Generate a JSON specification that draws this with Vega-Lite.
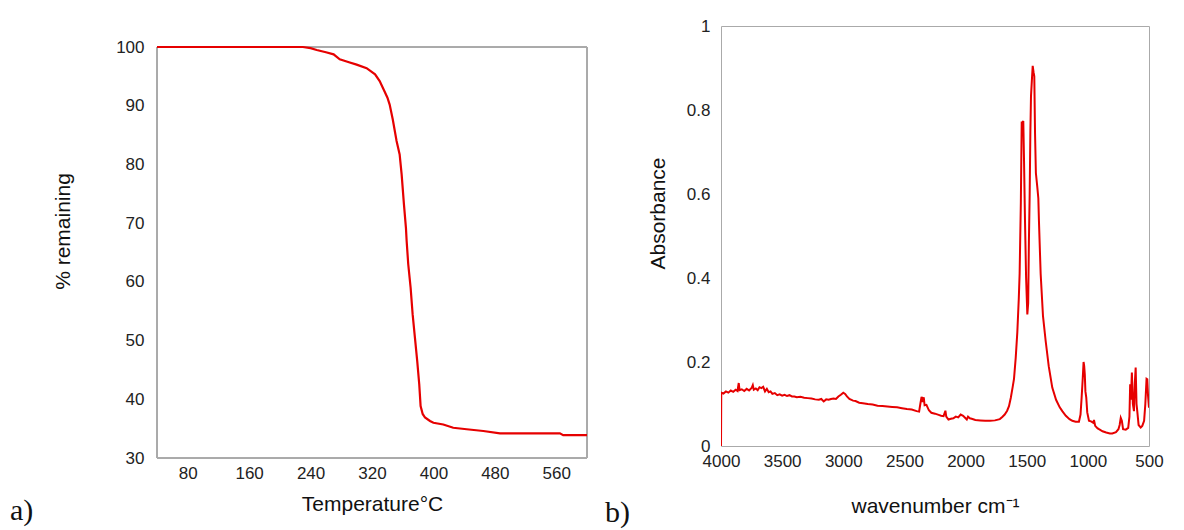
{
  "$schema": "https://vega.github.io/schema/vega-lite/v6.json",
  "background": "white",
  "padding": {"left": 10, "top": 16, "right": 0, "bottom": 0},
  "spacing": 16,
  "config": {
    "view": {"stroke": "#aaaaaa", "strokeWidth": 1},
    "axis": {
      "domain": false, "ticks": false, "tickSize": 0, "grid": false, "labelFlush": false,
      "labelFont": "Liberation Sans", "labelFontSize": 17, "labelColor": "#222222",
      "titleFont": "Liberation Sans", "titleFontSize": 21, "titleFontWeight": "normal", "titleColor": "#111111"
    },
    "title": {"font": "Liberation Serif", "fontSize": 30, "fontWeight": "normal", "color": "#111111"}
  },
  "hconcat": [
    {
      "width": 430,
      "height": 432,
      "view": {"stroke": null},
      "title": {"text": "a)", "orient": "bottom", "anchor": "start", "frame": "group", "dx": -147, "dy": -18, "offset": 0},
      "data": {"values": [
        {"temperature": 40, "remaining": 100},
        {"temperature": 230, "remaining": 100},
        {"temperature": 240, "remaining": 99.8},
        {"temperature": 248, "remaining": 99.5},
        {"temperature": 260, "remaining": 99.1},
        {"temperature": 270, "remaining": 98.75},
        {"temperature": 278, "remaining": 97.9},
        {"temperature": 290, "remaining": 97.4},
        {"temperature": 300, "remaining": 97.0},
        {"temperature": 313, "remaining": 96.4},
        {"temperature": 324, "remaining": 95.35},
        {"temperature": 330, "remaining": 94.2},
        {"temperature": 335, "remaining": 92.8},
        {"temperature": 340, "remaining": 91.4},
        {"temperature": 343, "remaining": 90.2},
        {"temperature": 347, "remaining": 87.7},
        {"temperature": 352, "remaining": 84.0},
        {"temperature": 356, "remaining": 81.7},
        {"temperature": 358.6, "remaining": 78.3},
        {"temperature": 361.6, "remaining": 73.2},
        {"temperature": 364.2, "remaining": 69.2},
        {"temperature": 365.1, "remaining": 67.0},
        {"temperature": 367.2, "remaining": 63.0},
        {"temperature": 370.3, "remaining": 59.0},
        {"temperature": 372.9, "remaining": 54.5},
        {"temperature": 375.9, "remaining": 50.5},
        {"temperature": 378.9, "remaining": 46.5},
        {"temperature": 381.5, "remaining": 42.6},
        {"temperature": 383.3, "remaining": 38.85},
        {"temperature": 386, "remaining": 37.5},
        {"temperature": 389, "remaining": 36.9},
        {"temperature": 395.5, "remaining": 36.3},
        {"temperature": 400, "remaining": 36.0},
        {"temperature": 412.8, "remaining": 35.7},
        {"temperature": 425.8, "remaining": 35.15},
        {"temperature": 443.3, "remaining": 34.9},
        {"temperature": 465, "remaining": 34.6},
        {"temperature": 486.6, "remaining": 34.2},
        {"temperature": 564.7, "remaining": 34.2},
        {"temperature": 569, "remaining": 33.9},
        {"temperature": 600, "remaining": 33.9}
      ]},
      "layer": [
        {
          "mark": {"type": "rect", "filled": false, "stroke": "#aaaaaa", "strokeWidth": 1},
          "encoding": {
            "x": {"datum": 40, "type": "quantitative"},
            "x2": {"datum": 600},
            "y": {"datum": 30, "type": "quantitative"},
            "y2": {"datum": 100}
          }
        },
        {
          "mark": {"type": "line", "color": "#e60000", "strokeWidth": 2.2, "clip": true},
          "encoding": {
            "x": {"field": "temperature", "type": "quantitative",
              "scale": {"domain": [40, 600], "nice": false, "zero": false},
              "axis": {"values": [80, 160, 240, 320, 400, 480, 560], "title": "Temperature°C", "labelPadding": 7, "titlePadding": 12}},
            "y": {"field": "remaining", "type": "quantitative",
              "scale": {"domain": [30, 103.578], "nice": false, "zero": false},
              "axis": {"values": [30, 40, 50, 60, 70, 80, 90, 100], "title": "% remaining", "labelPadding": 13, "titlePadding": 42, "titleY": 205}}
          }
        }
      ]
    },
    {
      "width": 428,
      "height": 420,
      "title": {"text": "b)", "orient": "bottom", "anchor": "start", "frame": "group", "dx": -116, "dy": -18, "offset": 0},
      "data": {"values": [
        {"wavenumber": 4000, "absorbance": 0},
        {"wavenumber": 3998, "absorbance": 0.127},
        {"wavenumber": 3980, "absorbance": 0.125},
        {"wavenumber": 3960, "absorbance": 0.13},
        {"wavenumber": 3940, "absorbance": 0.127},
        {"wavenumber": 3920, "absorbance": 0.132},
        {"wavenumber": 3900, "absorbance": 0.129},
        {"wavenumber": 3880, "absorbance": 0.134},
        {"wavenumber": 3865, "absorbance": 0.131},
        {"wavenumber": 3855, "absorbance": 0.15},
        {"wavenumber": 3848, "absorbance": 0.133},
        {"wavenumber": 3830, "absorbance": 0.135},
        {"wavenumber": 3810, "absorbance": 0.131},
        {"wavenumber": 3790, "absorbance": 0.136},
        {"wavenumber": 3770, "absorbance": 0.132},
        {"wavenumber": 3750, "absorbance": 0.138},
        {"wavenumber": 3740, "absorbance": 0.145},
        {"wavenumber": 3732, "absorbance": 0.134},
        {"wavenumber": 3715, "absorbance": 0.137},
        {"wavenumber": 3700, "absorbance": 0.133},
        {"wavenumber": 3685, "absorbance": 0.14},
        {"wavenumber": 3670, "absorbance": 0.138},
        {"wavenumber": 3655, "absorbance": 0.141},
        {"wavenumber": 3640, "absorbance": 0.13},
        {"wavenumber": 3625, "absorbance": 0.136},
        {"wavenumber": 3610, "absorbance": 0.128},
        {"wavenumber": 3595, "absorbance": 0.13},
        {"wavenumber": 3580, "absorbance": 0.124},
        {"wavenumber": 3560, "absorbance": 0.126},
        {"wavenumber": 3540, "absorbance": 0.121},
        {"wavenumber": 3520, "absorbance": 0.123},
        {"wavenumber": 3500, "absorbance": 0.12},
        {"wavenumber": 3480, "absorbance": 0.122},
        {"wavenumber": 3460, "absorbance": 0.119},
        {"wavenumber": 3440, "absorbance": 0.121},
        {"wavenumber": 3420, "absorbance": 0.118},
        {"wavenumber": 3400, "absorbance": 0.118},
        {"wavenumber": 3380, "absorbance": 0.116},
        {"wavenumber": 3350, "absorbance": 0.117},
        {"wavenumber": 3320, "absorbance": 0.115},
        {"wavenumber": 3290, "absorbance": 0.114},
        {"wavenumber": 3260, "absorbance": 0.113},
        {"wavenumber": 3230, "absorbance": 0.111},
        {"wavenumber": 3200, "absorbance": 0.11},
        {"wavenumber": 3180, "absorbance": 0.112},
        {"wavenumber": 3160, "absorbance": 0.106},
        {"wavenumber": 3140, "absorbance": 0.111},
        {"wavenumber": 3120, "absorbance": 0.11},
        {"wavenumber": 3100, "absorbance": 0.112},
        {"wavenumber": 3080, "absorbance": 0.113},
        {"wavenumber": 3060, "absorbance": 0.112},
        {"wavenumber": 3040, "absorbance": 0.118},
        {"wavenumber": 3020, "absorbance": 0.122},
        {"wavenumber": 3000, "absorbance": 0.127},
        {"wavenumber": 2985, "absorbance": 0.124},
        {"wavenumber": 2970, "absorbance": 0.118},
        {"wavenumber": 2950, "absorbance": 0.112},
        {"wavenumber": 2920, "absorbance": 0.108},
        {"wavenumber": 2900, "absorbance": 0.107},
        {"wavenumber": 2870, "absorbance": 0.103},
        {"wavenumber": 2840, "absorbance": 0.102},
        {"wavenumber": 2800, "absorbance": 0.1},
        {"wavenumber": 2760, "absorbance": 0.099},
        {"wavenumber": 2720, "absorbance": 0.096},
        {"wavenumber": 2680, "absorbance": 0.095},
        {"wavenumber": 2640, "absorbance": 0.094},
        {"wavenumber": 2600, "absorbance": 0.093},
        {"wavenumber": 2560, "absorbance": 0.092},
        {"wavenumber": 2520, "absorbance": 0.09},
        {"wavenumber": 2480, "absorbance": 0.088},
        {"wavenumber": 2440, "absorbance": 0.087},
        {"wavenumber": 2400, "absorbance": 0.083},
        {"wavenumber": 2380, "absorbance": 0.082},
        {"wavenumber": 2370, "absorbance": 0.1},
        {"wavenumber": 2360, "absorbance": 0.117},
        {"wavenumber": 2350, "absorbance": 0.105},
        {"wavenumber": 2342, "absorbance": 0.116},
        {"wavenumber": 2335, "absorbance": 0.097},
        {"wavenumber": 2320, "absorbance": 0.098},
        {"wavenumber": 2300, "absorbance": 0.085},
        {"wavenumber": 2280, "absorbance": 0.079},
        {"wavenumber": 2250, "absorbance": 0.077},
        {"wavenumber": 2220, "absorbance": 0.074},
        {"wavenumber": 2200, "absorbance": 0.072},
        {"wavenumber": 2180, "absorbance": 0.071},
        {"wavenumber": 2165, "absorbance": 0.084},
        {"wavenumber": 2158, "absorbance": 0.07},
        {"wavenumber": 2140, "absorbance": 0.063},
        {"wavenumber": 2120, "absorbance": 0.065},
        {"wavenumber": 2100, "absorbance": 0.066},
        {"wavenumber": 2080, "absorbance": 0.07},
        {"wavenumber": 2060, "absorbance": 0.068},
        {"wavenumber": 2040, "absorbance": 0.075},
        {"wavenumber": 2020, "absorbance": 0.072},
        {"wavenumber": 2000, "absorbance": 0.066},
        {"wavenumber": 1990, "absorbance": 0.063},
        {"wavenumber": 1980, "absorbance": 0.07},
        {"wavenumber": 1965, "absorbance": 0.066},
        {"wavenumber": 1950, "absorbance": 0.065},
        {"wavenumber": 1920, "absorbance": 0.062},
        {"wavenumber": 1880, "absorbance": 0.061},
        {"wavenumber": 1840, "absorbance": 0.06},
        {"wavenumber": 1800, "absorbance": 0.06},
        {"wavenumber": 1760, "absorbance": 0.061},
        {"wavenumber": 1720, "absorbance": 0.064},
        {"wavenumber": 1700, "absorbance": 0.069},
        {"wavenumber": 1680, "absorbance": 0.075},
        {"wavenumber": 1660, "absorbance": 0.084},
        {"wavenumber": 1645, "absorbance": 0.095},
        {"wavenumber": 1630, "absorbance": 0.115},
        {"wavenumber": 1615, "absorbance": 0.14},
        {"wavenumber": 1604, "absorbance": 0.16},
        {"wavenumber": 1590, "absorbance": 0.21},
        {"wavenumber": 1577, "absorbance": 0.27},
        {"wavenumber": 1565, "absorbance": 0.35},
        {"wavenumber": 1558, "absorbance": 0.41},
        {"wavenumber": 1548, "absorbance": 0.58},
        {"wavenumber": 1541, "absorbance": 0.77},
        {"wavenumber": 1534, "absorbance": 0.77},
        {"wavenumber": 1528, "absorbance": 0.774},
        {"wavenumber": 1522, "absorbance": 0.68},
        {"wavenumber": 1514, "absorbance": 0.536},
        {"wavenumber": 1505, "absorbance": 0.4},
        {"wavenumber": 1495, "absorbance": 0.313},
        {"wavenumber": 1488, "absorbance": 0.34},
        {"wavenumber": 1482, "absorbance": 0.49},
        {"wavenumber": 1476, "absorbance": 0.595},
        {"wavenumber": 1470, "absorbance": 0.75},
        {"wavenumber": 1465, "absorbance": 0.833},
        {"wavenumber": 1458, "absorbance": 0.87},
        {"wavenumber": 1451, "absorbance": 0.905},
        {"wavenumber": 1444, "absorbance": 0.89},
        {"wavenumber": 1438, "absorbance": 0.88},
        {"wavenumber": 1432, "absorbance": 0.745},
        {"wavenumber": 1425, "absorbance": 0.65},
        {"wavenumber": 1413, "absorbance": 0.615},
        {"wavenumber": 1405, "absorbance": 0.59},
        {"wavenumber": 1400, "absorbance": 0.536},
        {"wavenumber": 1386, "absorbance": 0.41},
        {"wavenumber": 1367, "absorbance": 0.31},
        {"wavenumber": 1345, "absorbance": 0.25},
        {"wavenumber": 1320, "absorbance": 0.19},
        {"wavenumber": 1291, "absorbance": 0.139},
        {"wavenumber": 1260, "absorbance": 0.11},
        {"wavenumber": 1230, "absorbance": 0.092},
        {"wavenumber": 1209, "absorbance": 0.083},
        {"wavenumber": 1180, "absorbance": 0.072},
        {"wavenumber": 1150, "absorbance": 0.064},
        {"wavenumber": 1127, "absorbance": 0.06},
        {"wavenumber": 1100, "absorbance": 0.058},
        {"wavenumber": 1073, "absorbance": 0.058},
        {"wavenumber": 1060, "absorbance": 0.075},
        {"wavenumber": 1051, "absorbance": 0.115},
        {"wavenumber": 1042, "absorbance": 0.16},
        {"wavenumber": 1035, "absorbance": 0.2},
        {"wavenumber": 1030, "absorbance": 0.19},
        {"wavenumber": 1025, "absorbance": 0.17},
        {"wavenumber": 1020, "absorbance": 0.13},
        {"wavenumber": 1013, "absorbance": 0.115},
        {"wavenumber": 1005, "absorbance": 0.08},
        {"wavenumber": 991, "absorbance": 0.06},
        {"wavenumber": 970, "absorbance": 0.058},
        {"wavenumber": 955, "absorbance": 0.055},
        {"wavenumber": 950, "absorbance": 0.062},
        {"wavenumber": 940, "absorbance": 0.048},
        {"wavenumber": 920, "absorbance": 0.042},
        {"wavenumber": 909, "absorbance": 0.04},
        {"wavenumber": 880, "absorbance": 0.035},
        {"wavenumber": 850, "absorbance": 0.032},
        {"wavenumber": 820, "absorbance": 0.03},
        {"wavenumber": 800, "absorbance": 0.03},
        {"wavenumber": 770, "absorbance": 0.033},
        {"wavenumber": 750, "absorbance": 0.04},
        {"wavenumber": 740, "absorbance": 0.05},
        {"wavenumber": 731, "absorbance": 0.067},
        {"wavenumber": 722, "absorbance": 0.06},
        {"wavenumber": 712, "absorbance": 0.04},
        {"wavenumber": 690, "absorbance": 0.039},
        {"wavenumber": 670, "absorbance": 0.043},
        {"wavenumber": 660, "absorbance": 0.07},
        {"wavenumber": 654, "absorbance": 0.147},
        {"wavenumber": 648, "absorbance": 0.11},
        {"wavenumber": 640, "absorbance": 0.175},
        {"wavenumber": 632, "absorbance": 0.1},
        {"wavenumber": 623, "absorbance": 0.083},
        {"wavenumber": 616, "absorbance": 0.15},
        {"wavenumber": 609, "absorbance": 0.187},
        {"wavenumber": 602, "absorbance": 0.1},
        {"wavenumber": 596, "absorbance": 0.083},
        {"wavenumber": 585, "absorbance": 0.05},
        {"wavenumber": 568, "absorbance": 0.044},
        {"wavenumber": 555, "absorbance": 0.048},
        {"wavenumber": 540, "absorbance": 0.06},
        {"wavenumber": 530, "absorbance": 0.1},
        {"wavenumber": 520, "absorbance": 0.16},
        {"wavenumber": 514, "absorbance": 0.159},
        {"wavenumber": 508, "absorbance": 0.12},
        {"wavenumber": 500, "absorbance": 0.091}
      ]},
      "mark": {"type": "line", "color": "#e60000", "strokeWidth": 2, "clip": true},
      "encoding": {
        "x": {"field": "wavenumber", "type": "quantitative",
          "scale": {"domain": [4000, 500], "nice": false, "zero": false},
          "axis": {"values": [4000, 3500, 3000, 2500, 2000, 1500, 1000, 500], "format": "d", "title": "wavenumber cm⁻¹", "labelPadding": 7, "titlePadding": 26}},
        "y": {"field": "absorbance", "type": "quantitative",
          "scale": {"domain": [0, 1], "nice": false, "zero": false},
          "axis": {"values": [0, 0.2, 0.4, 0.6, 0.8, 1], "format": "~g", "title": "Absorbance", "labelPadding": 11, "titlePadding": 18, "titleY": 187}}
      }
    }
  ]
}
